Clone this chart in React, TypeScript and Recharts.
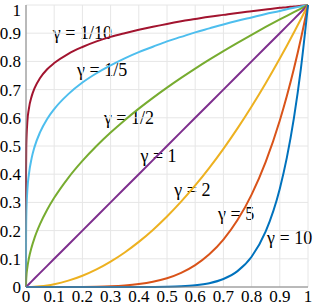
import { CartesianGrid, Line, LineChart, XAxis, YAxis } from "recharts";

const W = 315;
const H = 306;
const PLOT = { left: 26, top: 5, right: 308, bottom: 287 };

const xs = [
  0, 0.0001, 0.001, 0.005, 0.01, 0.02, 0.03, 0.05, 0.075, 0.1, 0.15, 0.2, 0.25, 0.3, 0.35, 0.4,
  0.45, 0.5, 0.55, 0.6, 0.65, 0.7, 0.75, 0.8, 0.85, 0.9, 0.925, 0.95, 0.975, 1,
];
const g10th = [
  0, 0.398, 0.501, 0.589, 0.631, 0.676, 0.704, 0.741, 0.772, 0.794, 0.827, 0.851, 0.871, 0.887,
  0.9, 0.912, 0.923, 0.933, 0.942, 0.95, 0.958, 0.965, 0.972, 0.978, 0.984, 0.99, 0.992, 0.995,
  0.997, 1,
];
const g5th = [
  0, 0.158, 0.251, 0.347, 0.398, 0.457, 0.496, 0.549, 0.596, 0.631, 0.684, 0.725, 0.758, 0.786,
  0.811, 0.833, 0.852, 0.871, 0.887, 0.903, 0.917, 0.931, 0.944, 0.956, 0.968, 0.979, 0.985, 0.99,
  0.995, 1,
];
const gHalf = [
  0, 0.01, 0.0316, 0.0707, 0.1, 0.1414, 0.1732, 0.2236, 0.2739, 0.3162, 0.3873, 0.4472, 0.5,
  0.5477, 0.5916, 0.6325, 0.6708, 0.7071, 0.7416, 0.7746, 0.8062, 0.8367, 0.866, 0.8944, 0.922,
  0.9487, 0.9618, 0.9747, 0.9874, 1,
];
const gOne = [
  0, 0.0001, 0.001, 0.005, 0.01, 0.02, 0.03, 0.05, 0.075, 0.1, 0.15, 0.2, 0.25, 0.3, 0.35, 0.4,
  0.45, 0.5, 0.55, 0.6, 0.65, 0.7, 0.75, 0.8, 0.85, 0.9, 0.925, 0.95, 0.975, 1,
];
const gTwo = [
  0, 0, 0, 0.000025, 0.0001, 0.0004, 0.0009, 0.0025, 0.0056, 0.01, 0.0225, 0.04, 0.0625, 0.09,
  0.1225, 0.16, 0.2025, 0.25, 0.3025, 0.36, 0.4225, 0.49, 0.5625, 0.64, 0.7225, 0.81, 0.8556,
  0.9025, 0.9506, 1,
];
const gFive = [
  0, 0, 0, 0, 0, 0, 0, 0, 0, 0.00001, 0.000076, 0.00032, 0.00098, 0.00243, 0.00525, 0.01024,
  0.01845, 0.03125, 0.0503, 0.07776, 0.116, 0.16807, 0.2373, 0.32768, 0.4437, 0.59049, 0.6772,
  0.7738, 0.881, 1,
];
const gTen = [
  0, 0, 0, 0, 0, 0, 0, 0, 0, 0, 0, 0, 0, 0.000006, 0.000028, 0.000105, 0.00034, 0.000977, 0.00253,
  0.00605, 0.01346, 0.02825, 0.0563, 0.1074, 0.1969, 0.3487, 0.4586, 0.5987, 0.7763, 1,
];

const ticks = [0, 0.1, 0.2, 0.3, 0.4, 0.5, 0.6, 0.7, 0.8, 0.9, 1];

const series = [
  { key: "g10th", values: g10th, color: "#A2142F", label: "γ = 1/10", lx: 0.2, ly: 0.9 },
  { key: "g5th", values: g5th, color: "#4DBEEE", label: "γ = 1/5", lx: 0.27, ly: 0.77 },
  { key: "gHalf", values: gHalf, color: "#77AC30", label: "γ = 1/2", lx: 0.365, ly: 0.6 },
  { key: "gOne", values: gOne, color: "#7E2F8E", label: "γ = 1", lx: 0.47, ly: 0.465 },
  { key: "gTwo", values: gTwo, color: "#EDB120", label: "γ = 2", lx: 0.59, ly: 0.345 },
  { key: "gFive", values: gFive, color: "#D95319", label: "γ = 5", lx: 0.745, ly: 0.26 },
  { key: "gTen", values: gTen, color: "#0072BD", label: "γ = 10", lx: 0.935, ly: 0.175 },
];

const data = xs.map((x, i) => {
  const row: Record<string, number> = { x };
  series.forEach((s) => {
    row[s.key] = s.values[i];
  });
  return row;
});

const FONT = "Liberation Serif, Times New Roman, DejaVu Serif, serif";
const TICK_SIZE = 17;

// plot-area pixel helpers for the text labels drawn behind the curves
const px = (v: number) => PLOT.left + v * (PLOT.right - PLOT.left);
const py = (v: number) => PLOT.bottom - v * (PLOT.bottom - PLOT.top);

// y tick: keep the top "1" inside the picture like the original does
function YTick(props: any) {
  const { x, y, payload } = props;
  return (
    <text
      x={x}
      y={Math.max(y, 10)}
      dy="0.355em"
      textAnchor="end"
      fill="#000"
      style={{ fontFamily: FONT, fontSize: TICK_SIZE }}
    >
      {String(payload.value)}
    </text>
  );
}

export default function App() {
  const axisProps = {
    stroke: "#808080",
    tickLine: false,
    ticks,
    interval: 0 as const,
    type: "number" as const,
    domain: [0, 1],
  };
  return (
    <div
      style={{
        position: "absolute",
        left: 0,
        top: 0,
        width: W,
        height: H,
        background: "#fff",
        fontFamily: FONT,
      }}
    >
      <svg width={W} height={H} style={{ position: "absolute", left: 0, top: 0 }}>
        {series.map((s) => (
          <text
            key={s.key}
            x={px(s.lx)}
            y={py(s.ly)}
            textAnchor="middle"
            dominantBaseline="central"
            style={{ fontFamily: FONT, fontSize: 18 }}
            fill="#000"
          >
            {s.label}
          </text>
        ))}
      </svg>
      <div style={{ position: "absolute", left: 0, top: 0 }}>
        <LineChart
          width={W}
          height={H}
          data={data}
          margin={{ top: PLOT.top, right: W - PLOT.right, bottom: 0, left: 0 }}
          style={{ fontFamily: FONT }}
        >
          <CartesianGrid stroke="#e6e6e6" horizontalValues={ticks} verticalValues={ticks} />
          <XAxis
            dataKey="x"
            {...axisProps}
            tick={{ fill: "#000", fontSize: TICK_SIZE, style: { fontFamily: FONT } }}
            tickFormatter={(v: number) => String(v)}
            height={H - PLOT.bottom}
            tickSize={1}
            tickMargin={2}
          />
          <YAxis {...axisProps} tick={<YTick />} width={PLOT.left} tickSize={3} tickMargin={2} />
          {series.map((s) => (
            <Line
              key={s.key}
              dataKey={s.key}
              type="monotone"
              stroke={s.color}
              strokeWidth={2}
              dot={false}
              isAnimationActive={false}
            />
          ))}
        </LineChart>
      </div>
    </div>
  );
}
